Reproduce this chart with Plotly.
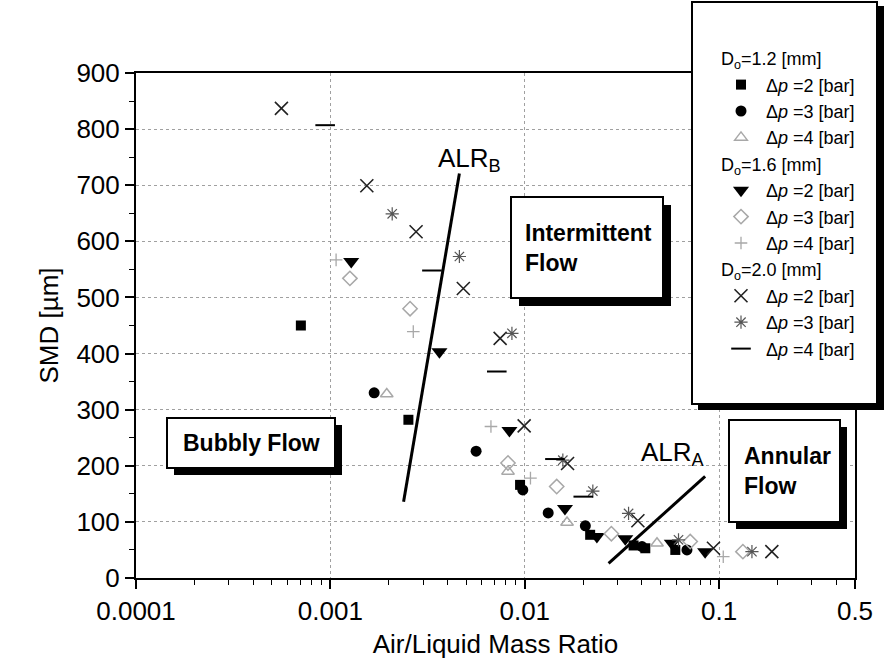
import plotly.graph_objects as go

# Sauter mean diameter versus air/liquid mass ratio for three orifice diameters
alr_12_p2 = [0.000705, 0.00252, 0.00946, 0.0217, 0.0363, 0.0417, 0.0595]
smd_12_p2 = [450, 282, 166, 77, 58, 53, 50]
alr_12_p3 = [0.00168, 0.00562, 0.00977, 0.0132, 0.0205, 0.0401, 0.0683]
smd_12_p3 = [330, 226, 157, 116, 93, 56, 50]
alr_12_p4 = [0.00195, 0.0082, 0.0165, 0.0479]
smd_12_p4 = [328, 190, 99, 62]

alr_16_p2 = [0.00128, 0.00364, 0.00834, 0.0161, 0.0235, 0.0329, 0.0571, 0.0847]
smd_16_p2 = [564, 403, 263, 124, 74, 70, 62, 47]
alr_16_p3 = [0.00126, 0.00257, 0.0082, 0.0146, 0.0279, 0.071, 0.1325]
smd_16_p3 = [534, 480, 205, 163, 79, 65, 47]
alr_16_p4 = [0.00107, 0.00267, 0.0067, 0.0107, 0.105]
smd_16_p4 = [567, 439, 270, 178, 38]

alr_20_p2 = [0.00056, 0.00154, 0.00276, 0.00483, 0.00747, 0.00993, 0.0166, 0.0382, 0.0935, 0.1867]
smd_20_p2 = [837, 699, 617, 516, 427, 271, 204, 102, 53, 47]
alr_20_p3 = [0.00208, 0.00461, 0.00859, 0.0157, 0.0224, 0.0342, 0.0618, 0.1475]
smd_20_p3 = [649, 573, 436, 210, 155, 115, 68, 47]
alr_20_p4 = [0.00094, 0.00333, 0.00718, 0.0143, 0.0200]
smd_20_p4 = [807, 548, 368, 212, 145]

# flow-regime transition lines (ALR_B and ALR_A)
alr_b_x = [0.00238, 0.00461]
alr_b_y = [136, 721]
alr_a_x = [0.0270, 0.0847]
alr_a_y = [26, 181]

x_tick_vals = [0.0001, 0.001, 0.01, 0.1, 0.5]
x_tick_text = ["0.0001", "0.001", "0.01", "0.1", "0.5"]

FONT = "Liberation Sans, Arial, sans-serif"
GRAY = "#a8a8a8"

series = [
    ("D12", "D<sub>o</sub>=1.2 [mm]", "Δ<i>p</i> =2 [bar]", alr_12_p2, smd_12_p2,
     dict(symbol="square", size=10, color="black")),
    ("D12", None, "Δ<i>p</i> =3 [bar]", alr_12_p3, smd_12_p3,
     dict(symbol="circle", size=11, color="black")),
    ("D12", None, "Δ<i>p</i> =4 [bar]", alr_12_p4, smd_12_p4,
     dict(symbol="triangle-up-open", size=11, color=GRAY, line=dict(width=1.5, color=GRAY))),
    ("D16", "D<sub>o</sub>=1.6 [mm]", "Δ<i>p</i> =2 [bar]", alr_16_p2, smd_16_p2,
     dict(symbol="triangle-down", size=14, color="black")),
    ("D16", None, "Δ<i>p</i> =3 [bar]", alr_16_p3, smd_16_p3,
     dict(symbol="diamond-open", size=11, color=GRAY, line=dict(width=1.5, color=GRAY))),
    ("D16", None, "Δ<i>p</i> =4 [bar]", alr_16_p4, smd_16_p4,
     dict(symbol="cross-thin", size=9, color=GRAY, line=dict(width=1.3, color=GRAY))),
    ("D20", "D<sub>o</sub>=2.0 [mm]", "Δ<i>p</i> =2 [bar]", alr_20_p2, smd_20_p2,
     dict(symbol="x-thin", size=13, color="#222", line=dict(width=1.6, color="#222"))),
    ("D20", None, "Δ<i>p</i> =3 [bar]", alr_20_p3, smd_20_p3,
     dict(symbol="asterisk", size=11, color="#555", line=dict(width=1.2, color="#555"))),
    ("D20", None, "Δ<i>p</i> =4 [bar]", alr_20_p4, smd_20_p4,
     dict(symbol="line-ew", size=14, color="black", line=dict(width=2, color="black"))),
]

fig = go.Figure()

fig.add_trace(go.Scatter(x=alr_b_x, y=alr_b_y, mode="lines",
                         line=dict(color="black", width=3), showlegend=False))
fig.add_trace(go.Scatter(x=alr_a_x, y=alr_a_y, mode="lines",
                         line=dict(color="black", width=3), showlegend=False))

for group, gtitle, name, xs, ys, marker in series:
    kw = {}
    if gtitle:
        kw["legendgrouptitle"] = dict(text=gtitle, font=dict(family=FONT, size=18, color="black"))
    fig.add_trace(go.Scatter(x=xs, y=ys, mode="markers", name=name,
                             legendgroup=group, marker=marker, **kw))

# plot area in pixels: x 136..855, y 73..578
L, R, T, B = 136, 855, 73, 578
W, H = R - L, B - T


def px(x):
    return (x - L) / W


def py(y):
    return (B - y) / H


shapes = []
annotations = []


def text_box(x0, y0, x1, y1, text, size, shadow=8, align="left", pad_left=12):
    shapes.append(dict(type="rect", xref="paper", yref="paper",
                       x0=px(x0 + shadow), x1=px(x1 + shadow),
                       y0=py(y1 + shadow), y1=py(y0 + shadow),
                       fillcolor="black", line=dict(width=0), layer="above"))
    shapes.append(dict(type="rect", xref="paper", yref="paper",
                       x0=px(x0), x1=px(x1), y0=py(y1), y1=py(y0),
                       fillcolor="white", line=dict(color="black", width=2), layer="above"))
    if align == "left":
        annotations.append(dict(xref="paper", yref="paper", x=px(x0 + pad_left),
                                y=py((y0 + y1) / 2), xanchor="left", yanchor="middle",
                                text=text, showarrow=False, align="left",
                                font=dict(family=FONT, size=size, color="black")))
    else:
        annotations.append(dict(xref="paper", yref="paper", x=px((x0 + x1) / 2),
                                y=py((y0 + y1) / 2), xanchor="center", yanchor="middle",
                                text=text, showarrow=False,
                                font=dict(family=FONT, size=size, color="black")))


text_box(511, 197, 663, 298, "<b>Intermittent<br>Flow</b>", 23)
text_box(167, 418, 335, 468, "<b>Bubbly Flow</b>", 23, shadow=7, align="center")
text_box(729, 420, 840, 522, "<b>Annular<br>Flow</b>", 23, shadow=7, pad_left=13)

# legend frame
shapes.append(dict(type="rect", xref="paper", yref="paper",
                   x0=px(698), x1=px(884), y0=py(410), y1=py(6),
                   fillcolor="black", line=dict(width=0), layer="above"))
shapes.append(dict(type="rect", xref="paper", yref="paper",
                   x0=px(692), x1=px(877), y0=py(404), y1=py(2),
                   fillcolor="white", line=dict(color="black", width=2), layer="above"))

annotations.append(dict(x=-2.455, y=745, xref="x", yref="y", text="ALR<sub>B</sub>",
                        showarrow=False, xanchor="left", yanchor="middle",
                        font=dict(family=FONT, size=26, color="black")))
annotations.append(dict(x=-1.41, y=222, xref="x", yref="y", text="ALR<sub>A</sub>",
                        showarrow=False, xanchor="left", yanchor="middle",
                        font=dict(family=FONT, size=26, color="black")))

minor_x = [m * 10 ** e for e in range(-4, 0) for m in range(2, 10) if m * 10 ** e < 0.5]

fig.update_layout(
    width=884, height=667,
    margin=dict(l=L, r=884 - R, t=T, b=667 - B),
    paper_bgcolor="white", plot_bgcolor="white",
    font=dict(family=FONT, size=20, color="black"),
    shapes=shapes, annotations=annotations,
    legend=dict(x=px(716), y=py(40), xanchor="left", yanchor="top",
                bgcolor="rgba(0,0,0,0)", borderwidth=0, tracegroupgap=0,
                font=dict(family=FONT, size=18, color="black"), itemwidth=40),
    xaxis=dict(type="log", range=[-4, -0.30103], tickmode="array",
               tickvals=x_tick_vals, ticktext=x_tick_text,
               ticks="outside", ticklen=9, tickwidth=1.5, tickcolor="black",
               minor=dict(tickmode="array", tickvals=minor_x, ticks="outside",
                          ticklen=5, tickwidth=1.2, tickcolor="black", showgrid=False),
               showline=True, linecolor="black", linewidth=2, mirror=True,
               showgrid=True, gridcolor="#a0a0a0", griddash="dot", gridwidth=1,
               tickfont=dict(size=26), zeroline=False,
               title=dict(text="Air/Liquid Mass Ratio", font=dict(size=26), standoff=10)),
    yaxis=dict(range=[0, 900], tickmode="linear", tick0=0, dtick=100,
               ticks="outside", ticklen=9, tickwidth=1.5, tickcolor="black",
               minor=dict(dtick=50, ticks="outside", ticklen=5, tickwidth=1.2,
                          tickcolor="black", showgrid=False),
               showline=True, linecolor="black", linewidth=2, mirror=True,
               showgrid=True, gridcolor="#a0a0a0", griddash="dot", gridwidth=1,
               tickfont=dict(size=26), zeroline=False,
               title=dict(text="SMD [µm]", font=dict(size=26), standoff=10)),
)

fig.write_html("out.html")
